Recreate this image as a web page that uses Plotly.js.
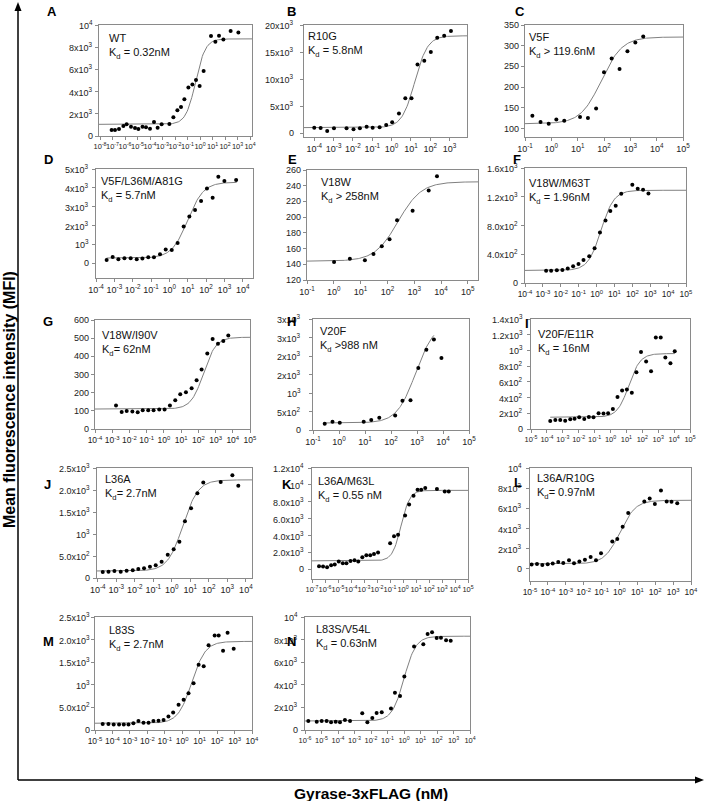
<!DOCTYPE html>
<html>
<head>
<meta charset="utf-8">
<script src="https://cdn.plot.ly/plotly-3.0.1.min.js"></script>
<style>
  html, body { margin: 0; padding: 0; background: #fff; }
  #chart { width: 708px; height: 801px; }
</style>
</head>
<body>
<div id="chart"></div>
<script>
// ============ DATA (log10 of concentration in nM, MFI) ============
const A_logC = [-7.07,-6.8,-6.48,-6.13,-5.87,-5.52,-5.2,-4.93,-4.6,-4.32,-4.0,-3.68,-3.39,-3.07,-2.45,-2.13,-1.81,-1.52,-1.25,-0.93,-0.61,-0.32,-0.03,0.29,0.88,1.23,1.52,1.87,2.45,3.07];
const A_mfi  = [540,540,630,900,1050,840,720,630,840,780,660,1260,750,1050,1080,1680,2310,2610,3300,4380,4650,5040,4500,5850,9000,8500,9030,8700,9450,9330];
const B_logC = [-4,-3.67,-3.33,-2.98,-2.33,-1.97,-1.64,-1.29,-0.98,-0.62,-0.28,0.03,0.38,0.71,1.03,1.34,1.69,2.03,2.36,2.72,3.07];
const B_mfi  = [990,930,370,870,870,680,870,1180,990,1050,1490,1980,3590,6440,6440,12700,13400,15000,17660,18000,18900];
const C_logC = [-0.72,-0.41,-0.1,0.19,0.49,1.09,1.39,1.7,2.0,2.29,2.59,2.89,3.19,3.49];
const C_mfi  = [131,116,112,122,119,128,126,149,236,269,244,287,308,322];
const D_logC = [-3.42,-3.09,-2.78,-2.45,-2.11,-1.78,-1.47,-1.15,-0.84,-0.51,-0.2,0.13,0.45,0.78,1.09,1.4,1.73,2.05,2.36,2.67,3.0,3.64];
const D_mfi  = [177,337,213,266,266,213,248,319,319,479,727,709,1082,1950,2482,2820,3300,3972,3475,4592,4362,4415];
const E_logC = [0.01,0.6,1.16,1.48,1.79,2.08,2.36,2.94,3.54,3.85];
const E_mfi  = [143,147,145,153,163,172,196,208,234,252];
const F_logC = [-2.82,-2.54,-2.22,-1.91,-1.61,-1.31,-1.01,-0.73,-0.41,-0.11,0.19,0.5,0.77,1.07,1.38,2.0,2.3,2.6,2.9];
const F_mfi  = [172,172,177,181,200,233,265,321,372,484,702,870,1000,1074,1242,1367,1311,1297,1246];
const G_logC = [-2.78,-2.45,-2.16,-1.83,-1.52,-1.23,-0.91,-0.6,-0.27,0.04,0.35,0.66,0.95,1.28,1.61,1.9,2.19,2.52,2.83,3.14,3.45,3.74];
const G_mfi  = [129,94,99,96,92,103,103,103,107,107,130,158,191,202,224,268,327,415,496,469,485,515];
const H_logC = [-0.55,-0.25,0.03,0.95,1.24,1.55,2.16,2.44,2.75,3.05,3.36,3.65,3.94];
const H_mfi  = [170,224,197,224,269,332,394,788,806,1675,2168,2446,1944];
const I_logC = [-3.79,-3.47,-3.16,-2.85,-2.53,-2.26,-1.97,-1.65,-1.36,-1.07,-0.75,-0.44,-0.15,0.15,0.44,0.73,1.03,1.34,1.63,1.92,2.24,2.55,2.85,3.16,3.45,3.77,4.04];
const I_mfi  = [102,115,115,106,123,132,149,128,153,149,200,196,200,255,408,489,502,460,723,979,860,736,1166,1166,911,838,991];
const J_logC = [-3.73,-3.42,-3.1,-2.76,-2.44,-2.11,-1.81,-1.5,-1.18,-0.87,-0.55,-0.22,0.1,0.41,0.71,1.04,1.38,1.7,2.64,3.27,3.59];
const J_mfi  = [136,144,159,144,167,174,205,220,258,288,371,531,652,826,1289,1584,1925,2170,2180,2335,2095];
const K_logC = [-6.46,-6.15,-5.84,-5.53,-5.25,-4.94,-4.63,-4.35,-4.04,-3.73,-3.44,-3.13,-2.82,-2.52,-2.23,-1.92,-0.99,-0.69,-0.38,0.16,0.47,0.81,1.12,1.4,1.71,2.61,3.21,3.52];
const K_mfi  = [356,317,238,475,554,911,713,713,990,1069,911,1426,1663,1663,1822,1980,3089,3920,4079,6376,7682,8712,9425,9425,9623,9504,9227,9227];
const L_logC = [-4.91,-4.61,-4.31,-4.01,-3.73,-3.42,-3.14,-2.82,-2.54,-2.24,-1.93,-1.61,-1.31,-1.03,-0.4,-0.12,0.18,0.49,1.39,1.69,1.98,2.32,2.64,2.91,3.23];
const L_mfi  = [426,492,394,459,525,689,590,853,558,722,918,1181,853,1542,2722,2952,4166,5543,6691,6986,6429,7774,6691,6658,6494];
const M_logC = [-4.56,-4.23,-3.93,-3.62,-3.35,-3.08,-2.8,-2.51,-2.22,-1.93,-1.65,-1.36,-1.07,-0.79,-0.52,-0.21,0.08,0.36,0.65,0.94,1.23,1.51,1.86,2.09,2.34,2.6,2.95];
const M_mfi  = [133,133,119,119,119,119,148,200,163,163,200,207,222,296,385,556,667,815,1037,1445,1408,1875,2090,2090,1756,2150,1800];
const N_logC = [-5.8,-5.29,-4.99,-4.69,-4.42,-4.14,-3.88,-3.58,-3.27,-2.53,-2.22,-1.92,-1.66,-1.35,-0.79,-0.55,-0.24,0.02,0.61,1.17,1.43,1.7,1.98,2.24,2.55,2.83];
const N_mfi  = [800,740,800,800,680,740,680,888,800,1480,680,1066,1510,1570,1894,3286,3019,4736,7400,7578,8500,8643,8140,8170,7950,7900];

// fitted curve parameters: [bottom, top, logEC50, hill, log start, log end]
const A_fit = [1050, 8750, -0.35, 1.1, -8.08, 4.16];
const B_fit = [1000, 18000, 1.2, 1.3, -4.53, 3.9];
const C_fit = [112, 321, 1.9, 1.1, -1, 5];
const D_fit = [280, 4300, 1.0, 1.0, -3.42, 3.67];
const E_fit = [144, 245, 2.4, 1.0, -1, 5.38];
const F_fit = [175, 1290, 0.25, 1.2, -4, 5];
const G_fit = [110, 505, 2.3, 1.2, -4, 5];
const H_fit = [190, 2900, 2.95, 1.2, -0.55, 3.65];
const I_fit = [150, 960, 1.15, 1.2, -3.79, 4.04];
const J_fit = [160, 2230, 0.6, 1.05, -4.04, 4.33];
const K_fit = [1000, 9350, -0.15, 1.3, -7, 5];
const L_fit = [500, 6800, 0.03, 1.0, -5, 4];
const M_fit = [150, 1960, 0.55, 1.1, -5, 4];
const N_fit = [800, 8300, 0.0, 1.2, -6, 4];

// y tick values and labels
const A_yv = [0,2000,4000,6000,8000,10000], A_yl = ['0','2x10<sup>3</sup>','4x10<sup>3</sup>','6x10<sup>3</sup>','8x10<sup>3</sup>','10<sup>4</sup>'];
const B_yv = [0,5000,10000,15000,20000], B_yl = ['0','5x10<sup>3</sup>','10x10<sup>3</sup>','15x10<sup>3</sup>','20x10<sup>3</sup>'];
const C_yv = [100,150,200,250,300,350], C_yl = ['100','150','200','250','300','350'];
const D_yv = [0,1000,2000,3000,4000,5000], D_yl = ['0','10<sup>3</sup>','2x10<sup>3</sup>','3x10<sup>3</sup>','4x10<sup>3</sup>','5x10<sup>3</sup>'];
const E_yv = [120,140,160,180,200,220,240,260], E_yl = ['120','140','160','180','200','220','240','260'];
const F_yv = [0,400,800,1200,1600], F_yl = ['0','4.0x10<sup>2</sup>','8.0x10<sup>2</sup>','1.2x10<sup>3</sup>','1.6x10<sup>3</sup>'];
const G_yv = [0,100,200,300,400,500,600], G_yl = ['0','100','200','300','400','500','600'];
const H_yv = [0,500,1000,1500,2000,2500,3000], H_yl = ['0','5x10<sup>2</sup>','10<sup>3</sup>','2x10<sup>3</sup>','2x10<sup>3</sup>','3x10<sup>3</sup>','3x10<sup>3</sup>'];
const I_yv = [0,200,400,600,800,1000,1200,1400], I_yl = ['0','2x10<sup>2</sup>','4x10<sup>2</sup>','6x10<sup>2</sup>','8x10<sup>2</sup>','10<sup>3</sup>','1.2x10<sup>3</sup>','1.4x10<sup>3</sup>'];
const J_yv = [0,500,1000,1500,2000,2500], J_yl = ['0','5.0x10<sup>2</sup>','10<sup>3</sup>','1.5x10<sup>3</sup>','2.0x10<sup>3</sup>','2.5x10<sup>3</sup>'];
const K_yv = [0,2000,4000,6000,8000,10000,12000], K_yl = ['0','2.0x10<sup>3</sup>','4.0x10<sup>3</sup>','6.0x10<sup>3</sup>','8.0x10<sup>3</sup>','10<sup>4</sup>','1.2x10<sup>4</sup>'];
const L_yv = [0,2000,4000,6000,8000,10000], L_yl = ['0','2x10<sup>3</sup>','4x10<sup>3</sup>','6x10<sup>3</sup>','8x10<sup>3</sup>','10<sup>4</sup>'];
const M_yv = [0,500,1000,1500,2000,2500], M_yl = ['0','5.0x10<sup>2</sup>','10<sup>3</sup>','1.5x10<sup>3</sup>','2.0x10<sup>3</sup>','2.5x10<sup>3</sup>'];
const N_yv = [0,2000,4000,6000,8000,10000], N_yl = ['0','2x10<sup>3</sup>','4x10<sup>3</sup>','6x10<sup>3</sup>','8x10<sup>3</sup>','10<sup>4</sup>'];

// ============ PANEL SETUP ============
const W = 708, H = 801;
const FONT = 'Arial, "Liberation Sans", sans-serif';
const BOX_COLOR = '#8a8a8a';

// box = [left, right, top, bottom] px; xr/yr ranges; xt = first/last decade; txt = label offset; gap = y label gap
const PANELS = [
  {key:'A', name:'WT', kd:'0.32nM', sep:' = ', logC:A_logC, mfi:A_mfi, fit:A_fit, yv:A_yv, yl:A_yl, box:[99,252,25,136], xr:[-8.08,4.16], xt:[-8,4], yr:[0,10000], xfs:7.5, letter:[52,11], txt:[8,5], gap:4},
  {key:'B', name:'R10G', kd:'5.8nM', sep:' = ', logC:B_logC, mfi:B_mfi, fit:B_fit, yv:B_yv, yl:B_yl, box:[304,467,25,137], xr:[-4.53,3.9], xt:[-4,3], yr:[-740,20000], xfs:9, letter:[291,11], txt:[2,3], gap:8},
  {key:'C', name:'V5F', kd:'119.6nM', sep:' > ', logC:C_logC, mfi:C_mfi, fit:C_fit, yv:C_yv, yl:C_yl, box:[525,683,25,137], xr:[-1,5], xt:[-1,5], yr:[80,350], xfs:9, letter:[520,11], txt:[2,4], gap:4},
  {key:'D', name:'V5F/L36M/A81G', kd:'5.7nM', sep:' = ', logC:D_logC, mfi:D_mfi, fit:D_fit, yv:D_yv, yl:D_yl, box:[96,253,169,278], xr:[-4,4.56], xt:[-4,4], yr:[-780,5000], xfs:9, letter:[48,159], txt:[3,4], gap:5},
  {key:'E', name:'V18W', kd:'258nM', sep:' > ', logC:E_logC, mfi:E_mfi, fit:E_fit, yv:E_yv, yl:E_yl, box:[307,478,170,280], xr:[-1,5.38], xt:[-1,5], yr:[120,260], xfs:9, letter:[292,159], txt:[12,4], gap:4},
  {key:'F', name:'V18W/M63T', kd:'1.96nM', sep:' = ', logC:F_logC, mfi:F_mfi, fit:F_fit, yv:F_yv, yl:F_yl, box:[525,686,168,283], xr:[-4,5], xt:[-4,5], yr:[0,1600], xfs:8.5, letter:[517,159], txt:[2,7], gap:5},
  {key:'G', name:'V18W/I90V', kd:'62nM', sep:'= ', logC:G_logC, mfi:G_mfi, fit:G_fit, yv:G_yv, yl:G_yl, box:[95,250,320,429], xr:[-4,5], xt:[-4,5], yr:[0,600], xfs:8.5, letter:[48,321], txt:[5,7], gap:4},
  {key:'H', name:'V20F', kd:'988 nM', sep:' >', logC:H_logC, mfi:H_mfi, fit:H_fit, yv:H_yv, yl:H_yl, box:[313,469,319,430], xr:[-1,5], xt:[-1,5], yr:[0,3000], xfs:9, letter:[291,321], txt:[5,4], gap:10},
  {key:'I', name:'V20F/E11R', kd:'16nM', sep:' = ', logC:I_logC, mfi:I_mfi, fit:I_fit, yv:I_yv, yl:I_yl, box:[531,690,319,429], xr:[-5,5], xt:[-5,5], yr:[0,1400], xfs:7.5, letter:[527,323], txt:[5,7], gap:6},
  {key:'J', name:'L36A', kd:'2.7nM', sep:'= ', logC:J_logC, mfi:J_mfi, fit:J_fit, yv:J_yv, yl:J_yl, box:[97,252,468,578], xr:[-4.04,4.33], xt:[-4,4], yr:[0,2500], xfs:9, letter:[47,484], txt:[6,3], gap:5},
  {key:'K', name:'L36A/M63L', kd:'0.55 nM', sep:' = ', logC:K_logC, mfi:K_mfi, fit:K_fit, yv:K_yv, yl:K_yl, box:[312,468,468,579], xr:[-7,5], xt:[-7,5], yr:[-1150,12000], xfs:7.5, letter:[287,484], txt:[4,5], gap:6},
  {key:'L', name:'L36A/R10G', kd:'0.97nM', sep:'= ', logC:L_logC, mfi:L_mfi, fit:L_fit, yv:L_yv, yl:L_yl, box:[530,691,468,581], xr:[-5,4], xt:[-5,4], yr:[-1200,10000], xfs:8.5, letter:[518,482], txt:[5,2], gap:6},
  {key:'M', name:'L83S', kd:'2.7nM', sep:' = ', logC:M_logC, mfi:M_mfi, fit:M_fit, yv:M_yv, yl:M_yl, box:[95,252,617,730], xr:[-5,4], xt:[-5,4], yr:[0,2500], xfs:8.5, letter:[48,641], txt:[12,5], gap:3},
  {key:'N', name:'L83S/V54L', kd:'0.63nM', sep:' = ', logC:N_logC, mfi:N_mfi, fit:N_fit, yv:N_yv, yl:N_yl, box:[305,470,617,730], xr:[-6,4], xt:[-6,4], yr:[0,10000], xfs:7.5, letter:[291,641], txt:[9,4], gap:5}
];

function px2x(p){ return p / W; }
function px2y(p){ return 1 - p / H; }

const traces = [];
const annotations = [];
const layout = {
  width: W, height: H,
  margin: {l:0, r:0, t:0, b:0},
  paper_bgcolor: '#fff', plot_bgcolor: 'rgba(0,0,0,0)',
  showlegend: false,
  font: {family: FONT, color: '#222'}
};

PANELS.forEach((p, i) => {
  const n = i + 1;
  const xa = 'x' + (n === 1 ? '' : n), ya = 'y' + (n === 1 ? '' : n);
  const [l, r, t, b] = p.box;

  // fitted curve
  const [bot, top, ec, hill, lo, hi] = p.fit;
  const fx = [], fy = [];
  for(let k = 0; k <= 160; k++){
    const d = lo + (hi - lo) * k / 160;
    fx.push(Math.pow(10, d));
    fy.push(bot + (top - bot) / (1 + Math.pow(10, (ec - d) * hill)));
  }
  traces.push({x: fx, y: fy, xaxis: xa, yaxis: ya, type: 'scatter', mode: 'lines',
    line: {color: '#808080', width: 1}, hoverinfo: 'skip'});
  traces.push({x: p.logC.map(v => Math.pow(10, v)), y: p.mfi, xaxis: xa, yaxis: ya,
    type: 'scatter', mode: 'markers', cliponaxis: false, marker: {color: '#000', size: 4}});

  const xvals = [], xtext = [];
  for(let k = p.xt[0]; k <= p.xt[1]; k++){ xvals.push(Math.pow(10, k)); xtext.push('10<sup>' + k + '</sup>'); }

  const axBase = {showline: true, linecolor: BOX_COLOR, linewidth: 1, mirror: true,
    ticks: 'outside', ticklen: 3, tickcolor: BOX_COLOR, showgrid: false, zeroline: false};

  layout['xaxis' + (n === 1 ? '' : n)] = Object.assign({}, axBase, {
    domain: [px2x(l), px2x(r)], anchor: ya, type: 'log', range: p.xr,
    tickmode: 'array', tickvals: xvals, ticktext: xtext, tickangle: 0,
    tickfont: {family: FONT, size: p.xfs, color: '#222'}
  });
  layout['yaxis' + (n === 1 ? '' : n)] = Object.assign({}, axBase, {
    domain: [px2y(b), px2y(t)], anchor: xa, range: p.yr,
    tickmode: 'array', tickvals: p.yv, showticklabels: false
  });

  // y tick labels placed on the panel's own y scale
  p.yv.forEach((v, j) => {
    annotations.push({xref: 'paper', yref: ya, x: px2x(l - p.gap), y: v,
      text: p.yl[j], showarrow: false, xanchor: 'right', yanchor: 'middle',
      font: {family: FONT, size: 9, color: '#222'}});
  });

  annotations.push({xref: 'paper', yref: 'paper', x: px2x(p.letter[0]), y: px2y(p.letter[1]),
    text: '<b>' + p.key + '</b>', showarrow: false, xanchor: 'center', yanchor: 'middle',
    font: {family: FONT, size: 13, color: '#000'}});
  annotations.push({xref: 'paper', yref: 'paper', x: px2x(l + p.txt[0]), y: px2y(t + p.txt[1]),
    text: p.name + '<br>K<sub>d</sub>' + p.sep + p.kd, showarrow: false, align: 'left',
    xanchor: 'left', yanchor: 'top', font: {family: FONT, size: 11, color: '#111'}});
});

// outer axis titles
annotations.push({xref: 'paper', yref: 'paper', x: px2x(9), y: px2y(400), textangle: -90,
  xanchor: 'center', yanchor: 'middle',
  text: '<b>Mean fluorescence intensity (MFI)</b>', showarrow: false,
  font: {family: FONT, size: 16, color: '#000'}});
annotations.push({xref: 'paper', yref: 'paper', x: px2x(371), y: px2y(793),
  xanchor: 'center', yanchor: 'middle',
  text: '<b>Gyrase-3xFLAG (nM)</b>', showarrow: false,
  font: {family: FONT, size: 15.5, color: '#000'}});

layout.annotations = annotations;
layout.shapes = [
  {type: 'line', xref: 'paper', yref: 'paper', x0: px2x(18), x1: px2x(18), y0: px2y(780), y1: px2y(8), line: {color: '#000', width: 1.5}},
  {type: 'line', xref: 'paper', yref: 'paper', x0: px2x(18), x1: px2x(698), y0: px2y(780), y1: px2y(780), line: {color: '#000', width: 1.5}},
  {type: 'path', xref: 'paper', yref: 'paper', fillcolor: '#000', line: {width: 0},
    path: 'M' + px2x(18) + ',' + px2y(2) + ' L' + px2x(14.5) + ',' + px2y(11) + ' L' + px2x(21.5) + ',' + px2y(11) + ' Z'},
  {type: 'path', xref: 'paper', yref: 'paper', fillcolor: '#000', line: {width: 0},
    path: 'M' + px2x(704) + ',' + px2y(780) + ' L' + px2x(695) + ',' + px2y(776.5) + ' L' + px2x(695) + ',' + px2y(783.5) + ' Z'}
];

Plotly.newPlot('chart', traces, layout, {displayModeBar: false, staticPlot: true});
</script>
</body>
</html>
